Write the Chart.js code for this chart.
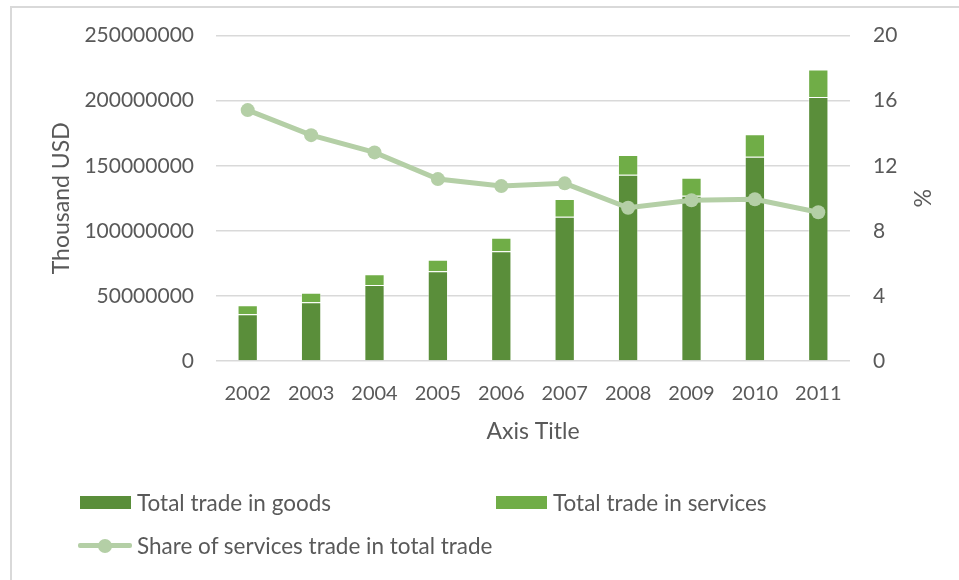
<!DOCTYPE html>
<html>
<head>
<meta charset="utf-8">
<script src="https://cdn.jsdelivr.net/npm/chart.js@4"></script>
<style>
  html, body { margin: 0; padding: 0; background: #fff; }
  #wrap { position: relative; width: 959px; height: 580px; overflow: hidden; }
  #frame { position: absolute; left: 10px; top: 6px; width: 960px; height: 600px;
           border-left: 2px solid #d9d9d9; border-top: 2px solid #d9d9d9; }
  #chart { position: absolute; left: 0; top: 0; }
  .leg { position: absolute; font-family: Lato, sans-serif; font-size: 22.5px; color: #595959;
         display: flex; align-items: center; white-space: nowrap; }
  .box { width: 51px; height: 13px; margin-right: 6px; }
  .linekey { position: relative; width: 54px; height: 16px; margin-right: 5px; }
  .linekey .bar { position: absolute; left: 0; right: 0; top: 5.5px; height: 5px; border-radius: 2px; }
  .linekey .dot { position: absolute; left: 20px; top: 1px; width: 14px; height: 14px; border-radius: 50%; }
</style>
</head>
<body>
<div id="wrap">
  <div id="frame"></div>
  <canvas id="chart" width="959" height="580"></canvas>
  <div id="legend"></div>
</div>
<script>
// data
const years = ["2002", "2003", "2004", "2005", "2006", "2007", "2008", "2009", "2010", "2011"];
const goods = [36000000, 45200000, 58300000, 69000000, 84400000, 110900000, 143100000, 126900000, 156900000, 202900000];
const services = [6900000, 7200000, 8400000, 8700000, 10200000, 13600000, 15100000, 13900000, 17400000, 21000000];
const shareServices = [15.42, 13.88, 12.82, 11.18, 10.75, 10.92, 9.42, 9.88, 9.94, 9.14];

const goodsColor = "#5a8e3a";
const servicesColor = "#70ad47";
const lineColor = "#b4cfa6";
const textColor = "#595959";
const gridColor = "#d9d9d9";

const ctx = document.getElementById("chart").getContext("2d");

const chart = new Chart(ctx, {
    type: "bar",
    data: {
        labels: years,
        datasets: [
            {
                type: "line",
                label: "Share of services trade in total trade",
                data: shareServices,
                yAxisID: "y1",
                borderColor: lineColor,
                backgroundColor: lineColor,
                borderWidth: 5,
                pointRadius: 7,
                pointBorderWidth: 0,
                pointBackgroundColor: lineColor,
                tension: 0,
                order: 0
            },
            {
                label: "Total trade in goods",
                data: goods,
                yAxisID: "y",
                backgroundColor: goodsColor,
                borderColor: "rgba(255,255,255,0.45)",
                borderWidth: 1,
                order: 1
            },
            {
                label: "Total trade in services",
                data: services,
                yAxisID: "y",
                backgroundColor: servicesColor,
                borderColor: "rgba(255,255,255,0.45)",
                borderWidth: 1,
                order: 1
            }
        ]
    },
    options: {
        responsive: false,
        animation: false,
        layout: { padding: { left: 0, right: 0, top: 35, bottom: 129 } },
        datasets: { bar: { categoryPercentage: 1, barPercentage: 0.32 } },
        plugins: {
            legend: { display: false },
            tooltip: { enabled: false }
        },
        scales: {
            x: {
                stacked: true,
                grid: { display: false },
                border: { display: false },
                ticks: { color: textColor, font: { family: "Lato", size: 20 }, padding: 13, maxRotation: 0 },
                title: { display: true, text: "Axis Title", color: textColor,
                         font: { family: "Lato", size: 23 }, padding: { top: 0, bottom: 6 } },
                afterFit: s => { s.height = 90; }
            },
            y: {
                position: "left",
                stacked: true,
                min: 0,
                max: 250000000,
                ticks: { stepSize: 50000000, color: textColor, font: { family: "Lato", size: 21 }, padding: 22,
                         callback: v => String(v) },
                grid: { color: gridColor, lineWidth: 1.5, drawTicks: false },
                border: { display: false },
                title: { display: true, text: "Thousand USD", color: textColor,
                         font: { family: "Lato", size: 23 }, padding: { top: 48, bottom: 0 } },
                afterFit: s => { s.width = 216; }
            },
            y1: {
                position: "right",
                min: 0,
                max: 20,
                ticks: { stepSize: 4, color: textColor, font: { family: "Lato", size: 21 }, padding: 23 },
                grid: { display: false, drawTicks: false },
                border: { display: false },
                title: { display: true, text: "%", color: textColor,
                         font: { family: "Lato", size: 23 }, padding: { top: 24, bottom: 0 } },
                afterFit: s => { s.width = 109; }
            }
        }
    }
});

// legend laid out like the original (two columns, line series on its own row)
function buildLegend() {
    const legend = document.getElementById("legend");
    const ds = chart.data.datasets;
    const spots = [
        { i: 1, left: 80, top: 489 },
        { i: 2, left: 496, top: 489 },
        { i: 0, left: 78, top: 532 }
    ];
    spots.forEach(s => {
        const d = ds[s.i];
        const item = document.createElement("div");
        item.className = "leg";
        item.style.left = s.left + "px";
        item.style.top = s.top + "px";
        let key;
        if (d.type === "line") {
            key = document.createElement("div");
            key.className = "linekey";
            key.innerHTML = '<div class="bar"></div><div class="dot"></div>';
            key.querySelector(".bar").style.background = d.borderColor;
            key.querySelector(".dot").style.background = d.pointBackgroundColor;
        } else {
            key = document.createElement("div");
            key.className = "box";
            key.style.background = d.backgroundColor;
        }
        const txt = document.createElement("span");
        txt.textContent = d.label;
        item.appendChild(key);
        item.appendChild(txt);
        legend.appendChild(item);
    });
}
buildLegend();
</script>
</body>
</html>
